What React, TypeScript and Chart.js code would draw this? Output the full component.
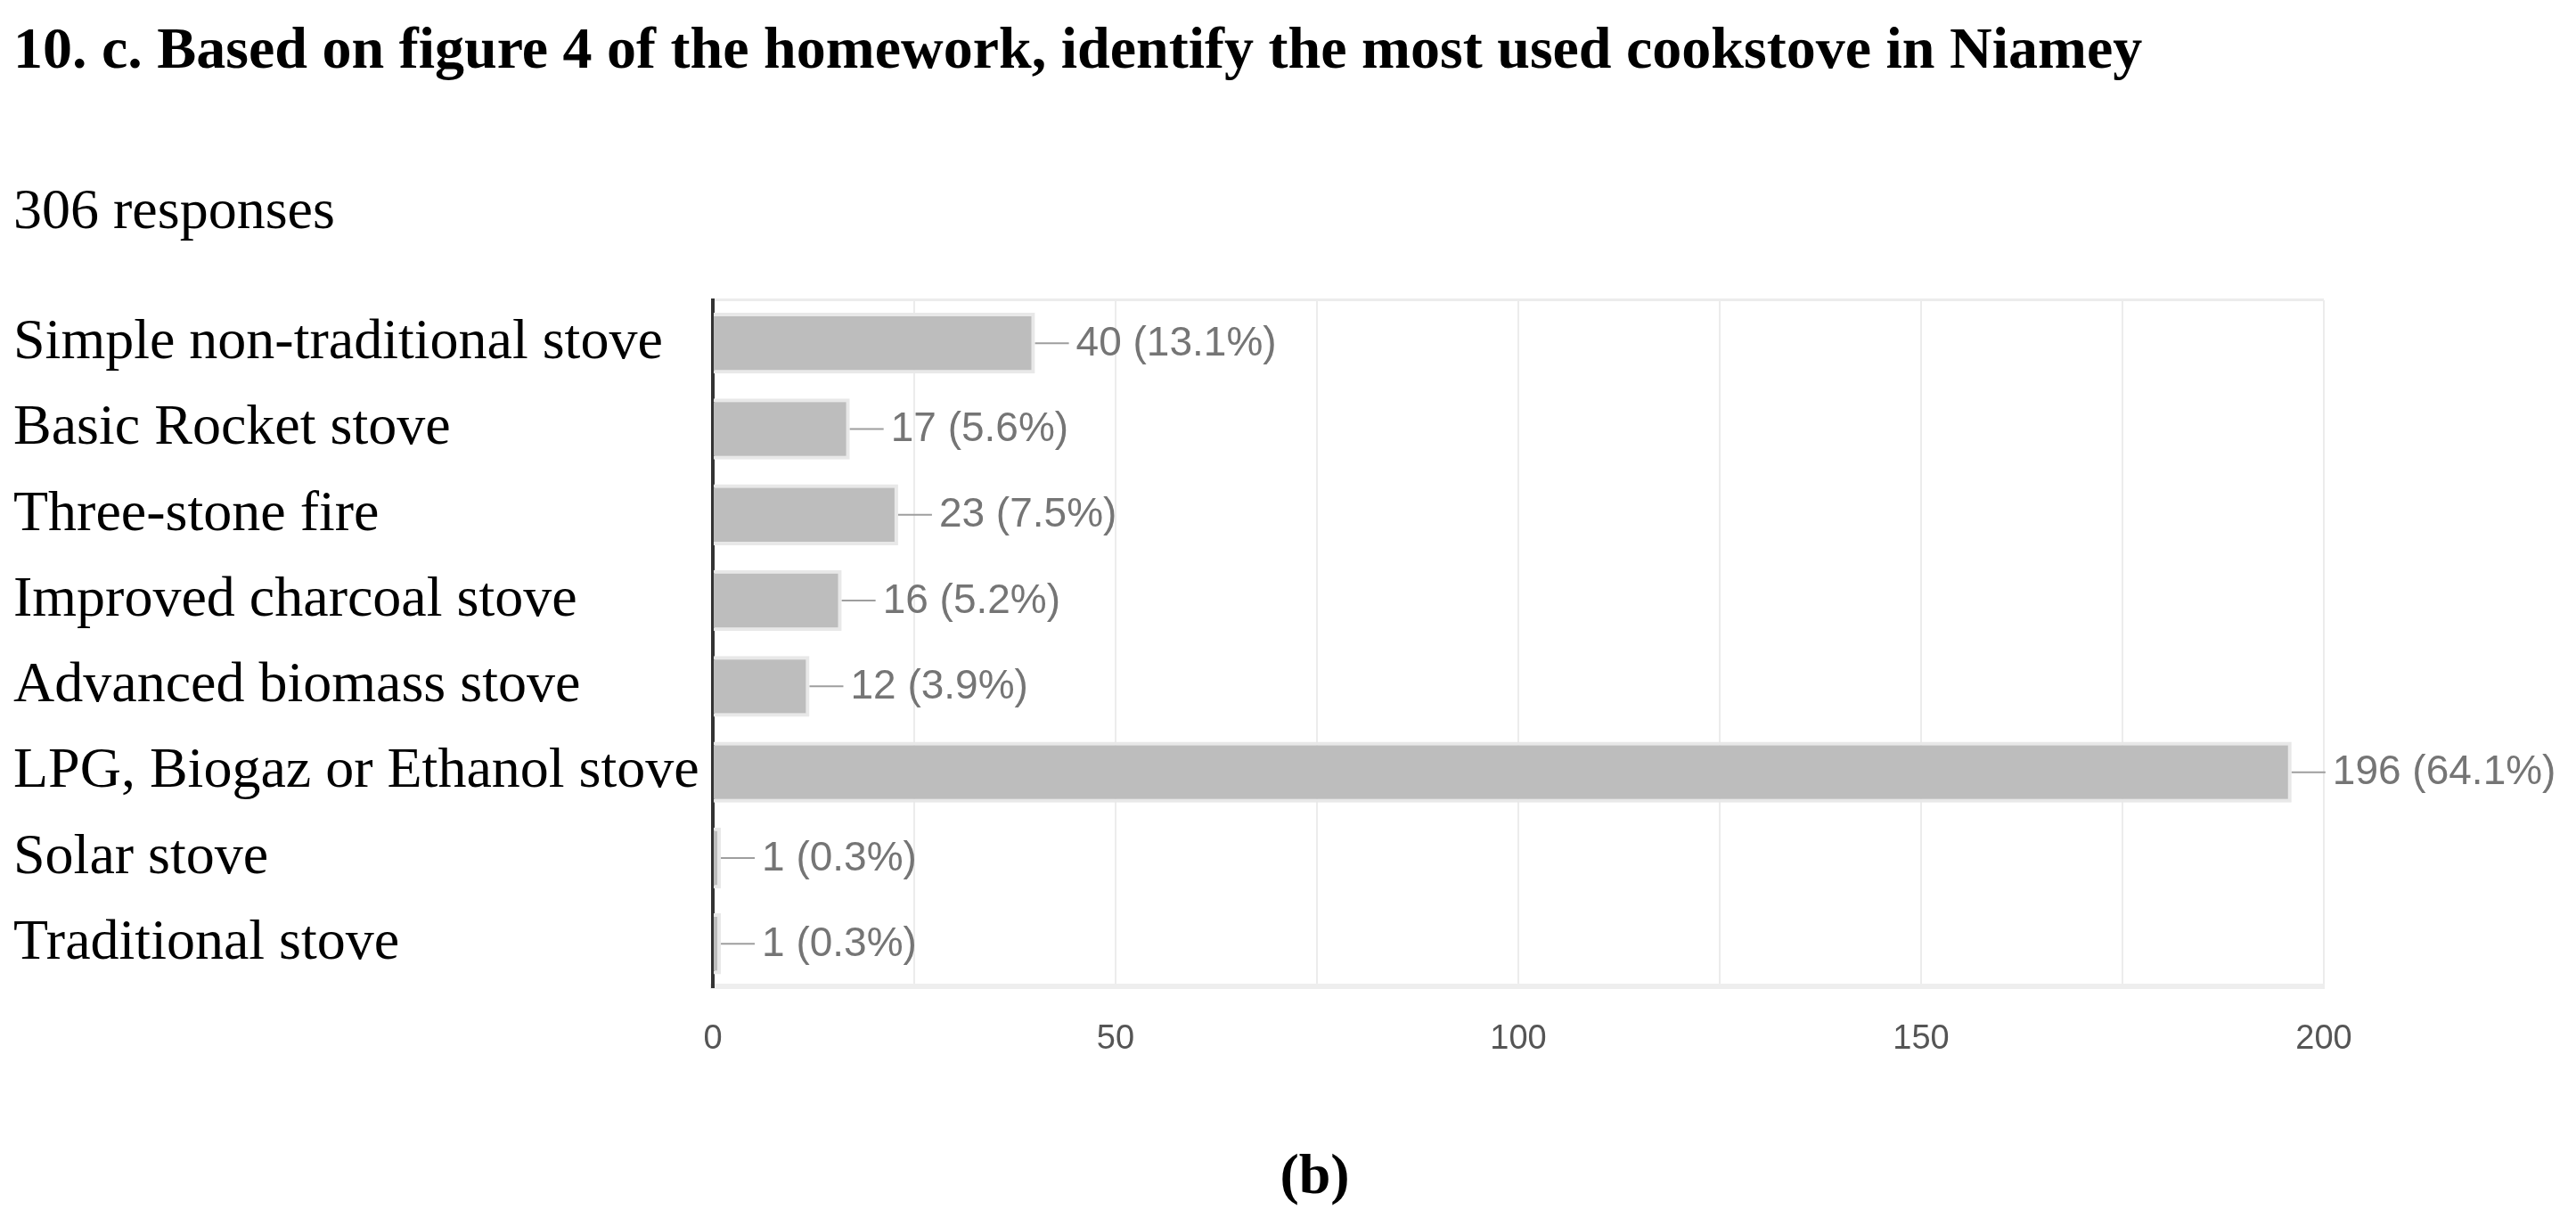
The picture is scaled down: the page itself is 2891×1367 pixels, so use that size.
import React, { useEffect, useRef } from "react";
import { Chart, registerables } from "chart.js";

Chart.register(...registerables);

const titleText = "10. c. Based on figure 4 of the homework, identify the most used cookstove in Niamey";
const subtitleText = "306 responses";
const captionText = "(b)";

const categories = [
  "Simple non-traditional stove",
  "Basic Rocket stove",
  "Three-stone fire",
  "Improved charcoal stove",
  "Advanced biomass stove",
  "LPG, Biogaz or Ethanol stove",
  "Solar stove",
  "Traditional stove",
];
const counts = [40, 17, 23, 16, 12, 196, 1, 1];
const percents = ["13.1%", "5.6%", "7.5%", "5.2%", "3.9%", "64.1%", "0.3%", "0.3%"];
const xTickLabels = [0, 50, 100, 150, 200];

const valueLabelPlugin = {
  id: "valueLabels",
  afterDatasetsDraw(chart: any) {
    const ctx = chart.ctx;
    const meta = chart.getDatasetMeta(0);
    ctx.save();
    meta.data.forEach((bar: any, i: number) => {
      const x = bar.x;
      const y = bar.y;
      ctx.strokeStyle = "#9e9e9e";
      ctx.lineWidth = 2;
      ctx.beginPath();
      ctx.moveTo(x, y);
      ctx.lineTo(x + 38, y);
      ctx.stroke();
      ctx.fillStyle = "#757575";
      ctx.font = '46px "Liberation Sans"';
      ctx.textAlign = "left";
      ctx.textBaseline = "middle";
      ctx.fillText(`${counts[i]} (${percents[i]})`, x + 46, y + 1);
    });
    ctx.restore();
  },
};

const captionPlugin = {
  id: "caption",
  afterDraw(chart: any) {
    const ctx = chart.ctx;
    ctx.save();
    ctx.fillStyle = "#000";
    ctx.font = 'bold 64px "Liberation Serif"';
    ctx.textAlign = "center";
    ctx.textBaseline = "middle";
    ctx.fillText(captionText, chart.width / 2 + 30, 1322);
    ctx.restore();
  },
};

export default function App() {
  const ref = useRef<HTMLCanvasElement | null>(null);
  useEffect(() => {
    document.body.style.margin = "0";
    const chart = new Chart(ref.current as HTMLCanvasElement, {
      type: "bar",
      data: {
        labels: categories,
        datasets: [
          {
            data: counts,
            backgroundColor: "#bdbdbd",
            borderColor: "#e8e8e8",
            borderWidth: 4,
            barPercentage: 0.71,
            categoryPercentage: 1,
          },
        ],
      },
      options: {
        indexAxis: "y",
        animation: false,
        responsive: true,
        maintainAspectRatio: false,
        layout: { padding: { left: 15, right: 283, top: 0, bottom: 142 } },
        plugins: {
          legend: { display: false },
          tooltip: { enabled: false },
          title: {
            display: true,
            text: titleText,
            align: "start",
            color: "#000",
            font: { family: '"Liberation Serif"', size: 66, weight: "bold" },
            padding: { top: 19, bottom: 0 },
          },
          subtitle: {
            display: true,
            text: subtitleText,
            align: "start",
            color: "#000",
            font: { family: '"Liberation Serif"', size: 64, weight: "normal" },
            padding: { top: 103, bottom: 59 },
          },
        },
        scales: {
          x: {
            min: 0,
            max: 200,
            ticks: {
              stepSize: 25,
              autoSkip: false,
              maxRotation: 0,
              padding: 36,
              color: "#555",
              font: { family: '"Liberation Sans"', size: 38 },
              callback: (v: any) => (xTickLabels.includes(Number(v)) ? String(v) : ""),
            },
            grid: { color: "#ececec", lineWidth: 2, drawTicks: false },
            border: { display: true, color: "#eeeeee", width: 6 },
          },
          y: {
            ticks: {
              crossAlign: "far",
              color: "#000",
              padding: 0,
              font: { family: '"Liberation Serif"', size: 64 },
            },
            grid: {
              drawTicks: false,
              lineWidth: 3,
              color: (c: any) => (c.index === 0 ? "#ececec" : "rgba(0,0,0,0)"),
            },
            border: { display: true, color: "#333", width: 4 },
            afterFit: (scale: any) => {
              scale.width = 785;
            },
          },
        },
      },
      plugins: [valueLabelPlugin, captionPlugin],
    });
    return () => chart.destroy();
  }, []);
  return (
    <div style={{ width: 2891, height: 1367, position: "relative" }}>
      <canvas ref={ref} />
    </div>
  );
}
